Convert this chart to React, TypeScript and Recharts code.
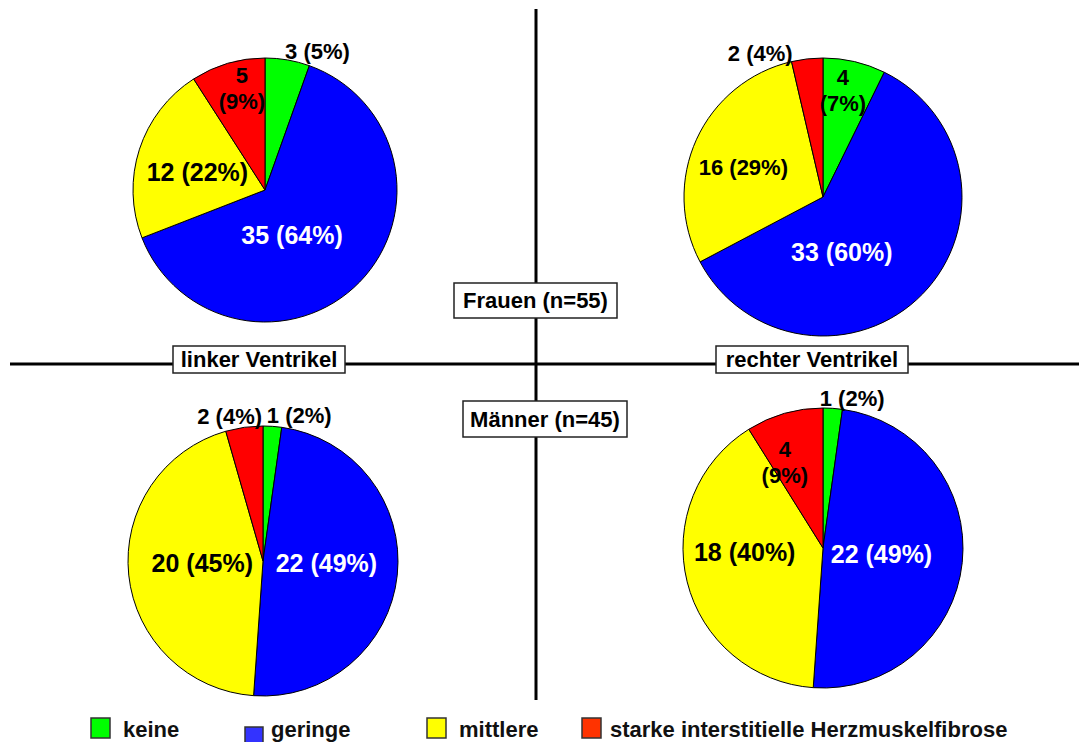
import React from "react";
import { Cell, Pie, PieChart } from "recharts";

// Herzmuskelfibrose: Anzahl Fälle je Kategorie, Reihenfolge wie im Uhrzeigersinn ab 12 Uhr
const CATEGORIES = ["keine", "geringe", "mittlere", "starke"];
const LEGEND_LABELS = [
  "keine",
  "geringe",
  "mittlere",
  "starke interstitielle Herzmuskelfibrose",
];

const FRAUEN_LINKS = [3, 35, 12, 5];
const FRAUEN_LINKS_PCT = [5, 64, 22, 9];
const FRAUEN_RECHTS = [4, 33, 16, 2];
const FRAUEN_RECHTS_PCT = [7, 60, 29, 4];
const MAENNER_LINKS = [1, 22, 20, 2];
const MAENNER_LINKS_PCT = [2, 49, 45, 4];
const MAENNER_RECHTS = [1, 22, 18, 4];
const MAENNER_RECHTS_PCT = [2, 49, 40, 9];

const GROUP_LABELS = ["Frauen (n=55)", "Männer (n=45)"];
const SIDE_LABELS = ["linker Ventrikel", "rechter Ventrikel"];

const SLICE_COLORS = ["#00ff00", "#0000ff", "#ffff00", "#ff0000"];
const LEGEND_COLORS = ["#00ff00", "#3333ff", "#ffff00", "#ff3300"];
const FONT = '"Liberation Sans", Arial, Helvetica, sans-serif';

type LabelCfg = { r: number; da: number; fs: number; split?: boolean };

// label placement: radius factor, angle nudge (deg), font size
const TL_LABELS: LabelCfg[] = [
  { r: 1.12, da: 11, fs: 22 },
  { r: 0.4, da: 15, fs: 25 },
  { r: 0.53, da: -3, fs: 25 },
  { r: 0.79, da: 3.6, fs: 22, split: true },
];
const TR_LABELS: LabelCfg[] = [
  { r: 0.78, da: -2.5, fs: 22, split: true },
  { r: 0.42, da: 27, fs: 25 },
  { r: 0.61, da: -4.5, fs: 22 },
  { r: 1.13, da: -17, fs: 22 },
];
const BL_LABELS: LabelCfg[] = [
  { r: 1.11, da: 10, fs: 22 },
  { r: 0.47, da: -4, fs: 25 },
  { r: 0.45, da: 4, fs: 25 },
  { r: 1.1, da: -5, fs: 22 },
];
const BR_LABELS: LabelCfg[] = [
  { r: 1.09, da: 7, fs: 22 },
  { r: 0.42, da: 0, fs: 25 },
  { r: 0.56, da: 11, fs: 25 },
  { r: 0.67, da: -8, fs: 22, split: true },
];

const toRows = (values: number[], pcts: number[]) =>
  CATEGORIES.map((name, i) => ({ name, value: values[i], pct: pcts[i] }));

function makeLabel(cfg: LabelCfg[]) {
  return (props: any) => {
    const { cx, cy, midAngle, outerRadius, index, value, payload } = props;
    const c = cfg[index];
    const theta = ((90 - midAngle + c.da) * Math.PI) / 180;
    const R = outerRadius * c.r;
    const x = cx + R * Math.sin(theta);
    const y = cy - R * Math.cos(theta);
    const pct = payload?.pct ?? props.pct;
    const fill = index === 1 ? "#ffffff" : "#000000";
    const common = {
      textAnchor: "middle" as const,
      fontFamily: FONT,
      fontWeight: 700,
      fontSize: c.fs,
      fill,
    };
    if (c.split) {
      return (
        <text {...common} x={x} y={y}>
          <tspan x={x} dy={-5}>{value}</tspan>
          <tspan x={x} dy={26}>({pct}%)</tspan>
        </text>
      );
    }
    return (
      <text {...common} x={x} y={y} dominantBaseline="central">
        {value} ({pct}%)
      </text>
    );
  };
}

const PIES = [
  { key: "fl", rows: toRows(FRAUEN_LINKS, FRAUEN_LINKS_PCT), cx: 265, cy: 190, r: 132, labels: TL_LABELS },
  { key: "fr", rows: toRows(FRAUEN_RECHTS, FRAUEN_RECHTS_PCT), cx: 823, cy: 197, r: 139, labels: TR_LABELS },
  { key: "ml", rows: toRows(MAENNER_LINKS, MAENNER_LINKS_PCT), cx: 263, cy: 561, r: 135, labels: BL_LABELS },
  { key: "mr", rows: toRows(MAENNER_RECHTS, MAENNER_RECHTS_PCT), cx: 823, cy: 548, r: 140, labels: BR_LABELS },
];

const LEGEND_LAYOUT = [
  { sx: 91, sy: 718, sw: 19, sh: 20, tx: 123 },
  { sx: 245, sy: 727, sw: 18, sh: 17, tx: 271 },
  { sx: 427, sy: 718, sw: 19, sh: 20, tx: 459 },
  { sx: 582, sy: 718, sw: 19, sh: 20, tx: 610 },
];

function Box({ x, y, w, h, text }: { x: number; y: number; w: number; h: number; text: string }) {
  return (
    <g>
      <rect x={x} y={y} width={w} height={h} fill="#fff" stroke="#222" strokeWidth={1.5} />
      <text
        x={x + w / 2}
        y={y + h / 2}
        textAnchor="middle"
        dominantBaseline="central"
        fontFamily={FONT}
        fontWeight={700}
        fontSize={22}
        fill="#000"
      >
        {text}
      </text>
    </g>
  );
}

export default function App() {
  return (
    <div style={{ position: "absolute", left: 0, top: 0, width: 1079, height: 742, background: "#fff" }}>
      <svg width={1079} height={742} style={{ position: "absolute", left: 0, top: 0 }}>
        <line x1={536} y1={9} x2={536} y2={700} stroke="#000" strokeWidth={3} />
        <line x1={10} y1={364} x2={1079} y2={364} stroke="#000" strokeWidth={3} />
        <Box x={454} y={283} w={163} h={35} text={GROUP_LABELS[0]} />
        <Box x={463} y={401} w={164} h={36} text={GROUP_LABELS[1]} />
        <Box x={173} y={346} w={172} h={27} text={SIDE_LABELS[0]} />
        <Box x={716} y={346} w={192} h={27} text={SIDE_LABELS[1]} />
        {LEGEND_LABELS.map((label, i) => {
          const l = LEGEND_LAYOUT[i];
          return (
            <g key={label}>
              <rect x={l.sx} y={l.sy} width={l.sw} height={l.sh} fill={LEGEND_COLORS[i]} stroke="#333" strokeWidth={1.5} />
              <text x={l.tx} y={737} fontFamily={FONT} fontWeight={700} fontSize={22} fill="#111">
                {label}
              </text>
            </g>
          );
        })}
      </svg>
      <div style={{ position: "absolute", left: 0, top: 0 }}>
        <PieChart width={1079} height={742} margin={{ top: 0, right: 0, bottom: 0, left: 0 }}>
          {PIES.map((p) => (
            <Pie
              key={p.key}
              data={p.rows}
              dataKey="value"
              nameKey="name"
              cx={p.cx}
              cy={p.cy}
              outerRadius={p.r}
              startAngle={90}
              endAngle={-270}
              stroke="#000"
              strokeWidth={1}
              labelLine={false}
              label={makeLabel(p.labels)}
              isAnimationActive={false}
            >
              {p.rows.map((row, i) => (
                <Cell key={row.name} fill={SLICE_COLORS[i]} />
              ))}
            </Pie>
          ))}
        </PieChart>
      </div>
    </div>
  );
}
